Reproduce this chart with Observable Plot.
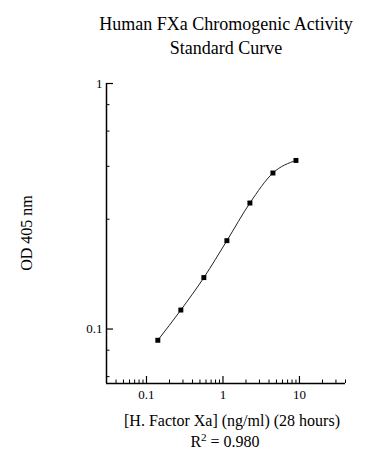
<!DOCTYPE html>
<html>
<head>
<meta charset="utf-8">
<script src="https://cdn.jsdelivr.net/npm/d3@7"></script>
<script src="https://cdn.jsdelivr.net/npm/@observablehq/plot@0.6"></script>
<style>
  html, body { margin: 0; padding: 0; background: #fff; overflow: hidden; }
  #wrap { position: relative; width: 388px; height: 465px; font-family: "Liberation Serif", "Times New Roman", serif; color: #000; }
  .t { position: absolute; white-space: nowrap; transform: translateX(-50%); }
  #title { left: 226px; top: 12px; font-size: 18px; line-height: 24px; text-align: center; }
  #xlabel { left: 232px; top: 411px; font-size: 16px; line-height: 20px; }
  #r2 { left: 225px; top: 432px; font-size: 16px; line-height: 20px; }
  #r2 sup { font-size: 11px; vertical-align: 6px; line-height: 0; }
  #ylabel { position: absolute; left: 27px; top: 233px; font-size: 16px; line-height: 16px; white-space: nowrap; transform: translate(-50%, -50%) rotate(-90deg); }
  #chart { position: absolute; left: 0; top: 0; }
</style>
</head>
<body>
<div id="wrap">
  <div id="chart"></div>
  <div id="title" class="t">Human FXa Chromogenic Activity<br>Standard Curve</div>
  <div id="ylabel">OD 405 nm</div>
  <div id="xlabel" class="t">[H. Factor Xa] (ng/ml) (28 hours)</div>
  <div id="r2" class="t">R<sup>2</sup> = 0.980</div>
</div>
<script>
// Data
const conc = [0.140625, 0.28125, 0.5625, 1.125, 2.25, 4.5, 9];
const od = [0.090, 0.1195, 0.162, 0.229, 0.326, 0.432, 0.486];

// Axes
const xDomain = [0.03, 40];
const yDomain = [0.06, 1];
const xMajorTicks = [0.1, 1, 10];
const xMinorTicks = [0.04, 0.05, 0.06, 0.07, 0.08, 0.09,
                     0.2, 0.3, 0.4, 0.5, 0.6, 0.7, 0.8, 0.9,
                     2, 3, 4, 5, 6, 7, 8, 9, 20, 30, 40];
const yMajorTicks = [0.1, 1];
const yMinorTicks = [0.82, 0.64, 0.46, 0.28, 0.082, 0.064];

const data = conc.map((c, i) => ({x: c, y: od[i]}));

const chart = Plot.plot({
  width: 388,
  height: 465,
  marginLeft: 106,
  marginRight: 43,
  marginTop: 83,
  marginBottom: 82,
  style: {fontFamily: "Liberation Serif, Times New Roman, serif", fontSize: "13px", color: "#000", background: "transparent"},
  x: {type: "log", domain: xDomain, axis: null},
  y: {type: "log", domain: yDomain, axis: null},
  marks: [
    Plot.axisX({ticks: xMinorTicks, tickSize: -3.5, fill: "none", label: null, strokeWidth: 1}),
    Plot.axisX({ticks: xMajorTicks, tickSize: -7, tickPadding: 13, tickFormat: d => String(d), label: null, strokeWidth: 1.2}),
    Plot.axisY({ticks: yMinorTicks, tickSize: -3.5, fill: "none", label: null, strokeWidth: 1}),
    Plot.axisY({ticks: yMajorTicks, tickSize: -7, tickPadding: 11, tickFormat: d => String(d), label: null, strokeWidth: 1.2}),
    Plot.ruleX([xDomain[0]], {stroke: "#000", strokeWidth: 1.5}),
    Plot.ruleY([yDomain[0]], {stroke: "#000", strokeWidth: 1.5}),
    Plot.line(data, {x: "x", y: "y", curve: "monotone-x", stroke: "#222", strokeWidth: 1}),
    Plot.dot(data, {x: "x", y: "y", symbol: "square", r: 2.8, fill: "#000", stroke: "none"})
  ]
});
document.getElementById("chart").appendChild(chart);
</script>
</body>
</html>
